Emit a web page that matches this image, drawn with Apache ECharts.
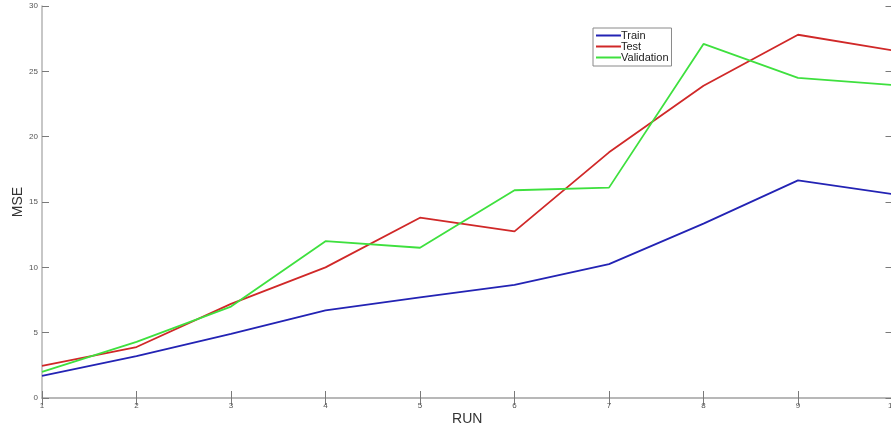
<!DOCTYPE html>
<html>
<head>
<meta charset="utf-8">
<script src="https://cdn.jsdelivr.net/npm/echarts@6/dist/echarts.min.js"></script>
<style>
  html, body { margin: 0; padding: 0; background: #fff; }
  #chart { width: 891px; height: 430px; }
</style>
</head>
<body>
<div id="chart"></div>
<script>
// Run indices (x axis)
const runs = [1, 2, 3, 4, 5, 6, 7, 8, 9, 10];
// Mean squared error per run
const trainMSE = [1.7, 3.2, 4.9, 6.7, 7.7, 8.65, 10.25, 13.35, 16.65, 15.6];
const testMSE = [2.45, 3.9, 7.2, 10.0, 13.8, 12.75, 18.8, 23.9, 27.8, 26.6];
const validationMSE = [2.0, 4.3, 7.0, 12.0, 11.5, 15.9, 16.1, 27.1, 24.5, 23.95];
const seriesNames = ['Train', 'Test', 'Validation'];
const seriesColors = ['#2323b4', '#d02828', '#3ee03e'];
// Axis ranges
const yTicks = [0, 5, 10, 15, 20, 25, 30];

const pairs = vals => runs.map((r, i) => [r, vals[i]]);

const boxLine = { show: true, lineStyle: { color: '#b4b4b4', width: 1.5 } };
const tickStyle = { show: true, inside: true, length: 7, lineStyle: { color: '#7a7a7a', width: 1 } };
const tickLabel = { color: '#555', fontSize: 8, fontFamily: 'Liberation Sans, Arial, sans-serif' };

const chart = echarts.init(document.getElementById('chart'), null, { renderer: 'canvas' });
chart.setOption({
  animation: false,
  backgroundColor: '#ffffff',
  grid: { left: 42, right: -1.5, top: 6, bottom: 32, containLabel: false, outerBoundsMode: 'none' },
  legend: {
    data: seriesNames,
    orient: 'vertical',
    left: 593,
    top: 28,
    padding: [2, 3, 3, 3],
    itemGap: 0,
    itemWidth: 25,
    itemHeight: 12,
    icon: 'path://M0,5 L25,5 L25,7 L0,7 Z',
    backgroundColor: '#fff',
    borderColor: '#8a8a8a',
    borderWidth: 1,
    textStyle: { color: '#222', fontSize: 11, fontFamily: 'Liberation Sans, Arial, sans-serif', padding: [0, 0, 0, -5] }
  },
  xAxis: [
    {
      type: 'value', min: runs[0], max: runs[runs.length - 1], interval: 1,
      name: 'RUN', nameLocation: 'middle', nameGap: 14, nameMoveOverlap: false,
      nameTextStyle: { color: '#333', fontSize: 14, fontFamily: 'Liberation Sans, Arial, sans-serif' },
      axisLine: boxLine, axisTick: tickStyle,
      axisLabel: Object.assign({ margin: 4 }, tickLabel),
      splitLine: { show: false }
    },
    {
      type: 'value', position: 'top', min: runs[0], max: runs[runs.length - 1], interval: 1,
      axisLine: boxLine, axisTick: tickStyle, axisLabel: { show: false }, splitLine: { show: false }
    }
  ],
  yAxis: [
    {
      type: 'value', min: yTicks[0], max: yTicks[yTicks.length - 1], interval: 5,
      name: 'MSE', nameLocation: 'middle', nameGap: 17, nameMoveOverlap: false,
      nameTextStyle: { color: '#333', fontSize: 14, fontFamily: 'Liberation Sans, Arial, sans-serif' },
      axisLine: boxLine, axisTick: tickStyle,
      axisLabel: Object.assign({ margin: 4 }, tickLabel),
      splitLine: { show: false }
    },
    {
      type: 'value', position: 'right', min: yTicks[0], max: yTicks[yTicks.length - 1], interval: 5,
      axisLine: boxLine, axisTick: tickStyle, axisLabel: { show: false }, splitLine: { show: false }
    }
  ],
  series: [trainMSE, testMSE, validationMSE].map((vals, i) => ({
    name: seriesNames[i],
    type: 'line',
    data: pairs(vals),
    xAxisIndex: 0,
    yAxisIndex: 0,
    showSymbol: false,
    color: seriesColors[i],
    lineStyle: { color: seriesColors[i], width: 1.8 }
  }))
});
</script>
</body>
</html>
